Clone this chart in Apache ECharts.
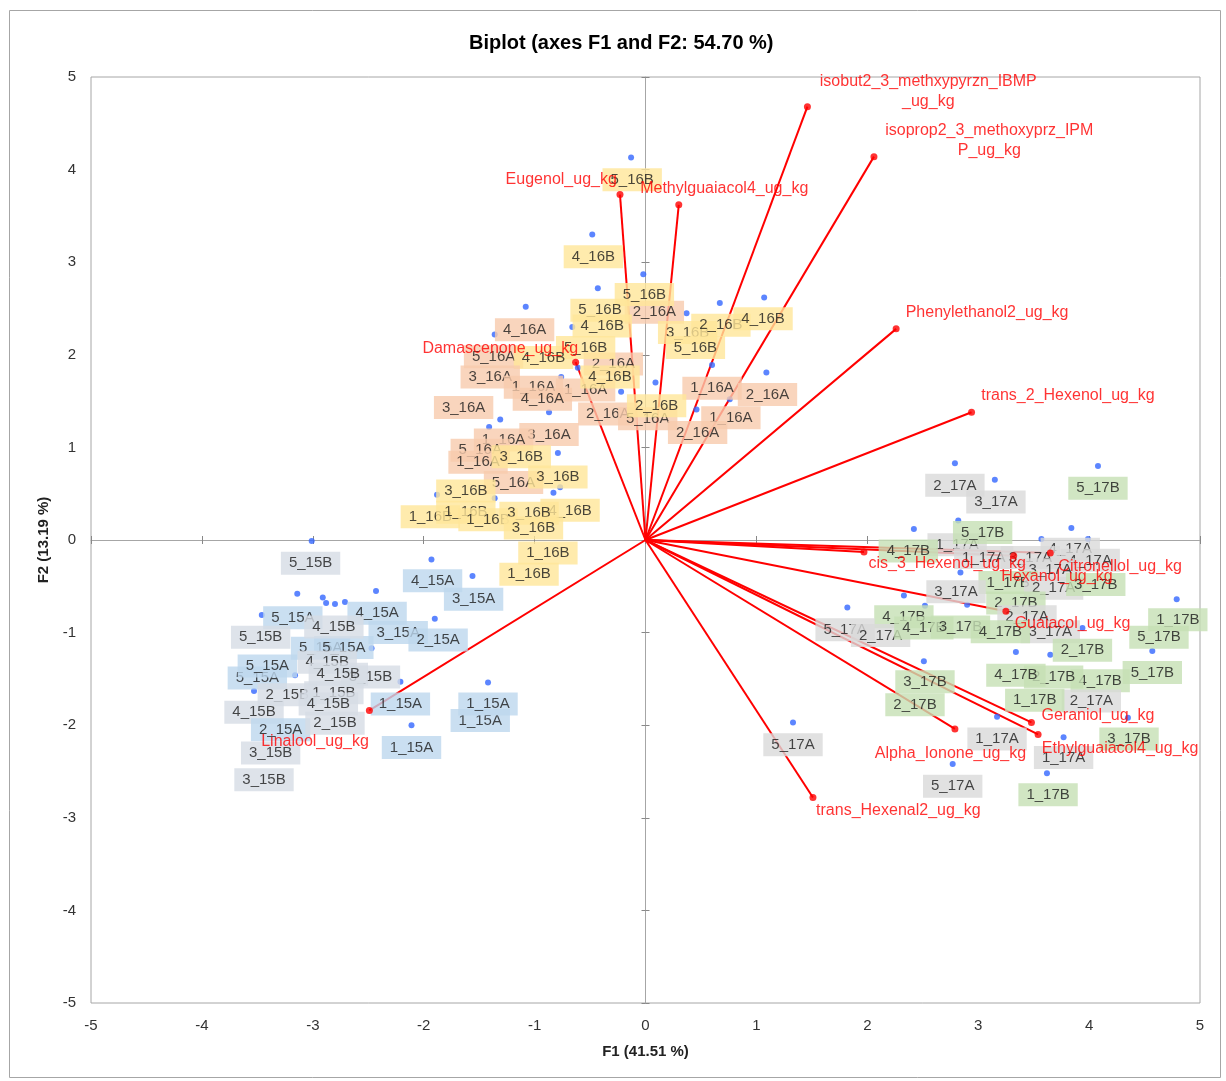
<!DOCTYPE html>
<html><head><meta charset="utf-8">
<script src="https://cdn.jsdelivr.net/npm/echarts@6/dist/echarts.min.js"></script>
<style>html,body{margin:0;padding:0;background:#fff}#c{width:1226px;height:1081px}</style>
</head><body><div id="c"></div>
<script>
// Observation scores (blue points)
const dotX = [-0.13,-0.48,-0.02,-0.43,-1.08,-0.66,-1.36,0.37,0.67,1.07,-0.61,-0.76,0.60,1.09,0.09,-0.22,-0.87,0.46,-1.31,-1.41,0.76,-0.79,-0.77,-0.83,-1.88,-1.36,
  -1.93,-1.56,-3.01,-3.14,-2.91,-2.88,-2.80,-2.71,-2.43,-3.46,-1.90,-2.47,-3.16,-3.53,-2.21,-1.42,-2.11,
  2.79,3.15,4.08,2.82,2.42,3.84,3.57,3.99,2.84,2.33,1.82,2.52,2.90,4.79,3.94,4.57,3.34,3.65,2.51,1.33,3.17,4.35,3.77,2.77,3.62];
const dotY = [4.13,3.30,2.87,2.72,2.52,2.30,2.22,2.45,2.56,2.62,1.86,1.76,1.89,1.81,1.70,1.60,1.38,1.41,1.30,1.22,1.52,0.94,0.57,0.51,0.49,0.45,
  -0.21,-0.39,-0.01,-0.58,-0.62,-0.68,-0.69,-0.67,-0.55,-0.81,-0.85,-1.17,-1.46,-1.63,-1.53,-1.54,-2.00,
  0.83,0.65,0.80,0.21,0.12,0.13,0.01,0.01,-0.35,-0.60,-0.73,-0.71,-0.70,-0.64,-0.95,-1.20,-1.21,-1.24,-1.31,-1.97,-1.91,-1.92,-2.13,-2.42,-2.52];

// Observation labels (as placed in the picture)
const obsNames = ["5_16B","4_16B","2_16A","5_16B","5_16B","4_16B","4_16A","3_16B","2_16B","4_16B","5_16B","5_16A","2_16A","5_16B","4_16B","3_16A","1_16A","1_16A","4_16B","4_16A","3_16A","1_16A","2_16A","2_16A","5_16A","2_16B","1_16A","2_16A","3_16A","1_16A","5_16A","1_16A","3_16B","5_16A","3_16B","3_16B","1_16B","1_16B","1_16B","4_16B","3_16B","3_16B","1_16B","1_16B",
  "5_15B","4_15A","3_15A","5_15A","4_15A","5_15A","5_15A","3_15A","2_15A","4_15B","5_15B","5_15A","4_15B","5_15A","3_15B","4_15B","2_15B","1_15B","4_15B","1_15A","1_15A","1_15A","4_15B","2_15A","2_15B","1_15A","3_15B","3_15B",
  "2_17A","3_17A","5_17B","1_17A","5_17B","4_17B","1_17A","4_17A","3_17A","4_17A","3_17A","1_17B","2_17A","3_17B","3_17A","2_17B","2_17A","4_17B","5_17A","2_17A","4_17B","3_17B","3_17A","4_17B","2_17B","1_17B","5_17B","5_17B","4_17B","2_17B","4_17B","3_17B","2_17B","2_17A","1_17B","5_17A","1_17A","3_17B","1_17A","5_17A","1_17B"];
const obsLabelX = [-0.12,-0.47,0.08,-0.01,-0.41,-0.39,-1.09,0.38,0.68,1.06,0.45,-1.37,-0.29,-0.54,-0.92,-1.40,-1.01,-0.54,-0.32,-0.93,-1.64,0.60,1.10,-0.34,0.02,0.10,0.77,0.47,-0.87,-1.28,-1.49,-1.51,-1.12,-1.19,-0.79,-1.62,-1.94,-1.62,-1.42,-0.68,-1.05,-1.01,-0.88,-1.05,
  -3.02,-1.92,-1.55,-3.18,-2.42,-2.93,-2.72,-2.23,-1.87,-2.81,-3.47,-3.50,-2.87,-3.41,-2.48,-2.77,-3.23,-2.81,-2.86,-2.21,-1.49,-1.42,-3.53,-3.29,-2.80,-2.11,-3.38,-3.44,
  2.79,3.16,4.08,2.81,3.04,2.37,3.05,3.83,3.47,4.01,3.65,3.27,3.68,4.06,2.80,3.34,3.44,2.33,1.80,2.12,2.51,2.84,3.65,3.20,3.94,4.80,4.63,4.57,4.10,3.68,3.34,2.52,2.43,4.02,3.51,1.33,3.17,4.36,3.77,2.77,3.63];
const obsLabelY = [3.89,3.06,2.46,2.65,2.48,2.31,2.27,2.24,2.32,2.39,2.08,1.98,1.90,2.08,1.97,1.76,1.65,1.62,1.76,1.52,1.43,1.64,1.57,1.36,1.31,1.45,1.32,1.16,1.14,1.08,0.97,0.84,0.90,0.62,0.68,0.53,0.25,0.30,0.22,0.32,0.29,0.13,-0.14,-0.37,
  -0.25,-0.44,-0.64,-0.84,-0.79,-1.17,-1.16,-1.00,-1.08,-0.94,-1.05,-1.49,-1.32,-1.36,-1.48,-1.45,-1.67,-1.65,-1.77,-1.77,-1.95,-1.77,-1.86,-2.05,-1.98,-2.24,-2.30,-2.59,
  0.59,0.41,0.56,-0.05,0.08,-0.12,-0.19,-0.10,-0.19,-0.22,-0.32,-0.46,-0.52,-0.48,-0.56,-0.68,-0.83,-0.83,-0.97,-1.03,-0.95,-0.94,-0.99,-0.99,-1.19,-0.86,-1.05,-1.43,-1.52,-1.48,-1.46,-1.53,-1.78,-1.74,-1.73,-2.21,-2.15,-2.15,-2.35,-2.66,-2.75];

// Variable loadings (red vectors)
const varNames = ["isobut2_3_methxypyrzn_IBMP\n_ug_kg","isoprop2_3_methoxyprz_IPM\nP_ug_kg","Eugenol_ug_kg","Methylguaiacol4_ug_kg","Phenylethanol2_ug_kg","trans_2_Hexenol_ug_kg","Damascenone_ug_kg","Linalool_ug_kg","cis_3_Hexenol_ug_kg","Hexanol_ug_kg","Citronellol_ug_kg","Guaiacol_ug_kg","Geraniol_ug_kg","Ethylguaiacol4_ug_kg","Alpha_Ionone_ug_kg","trans_Hexenal2_ug_kg"];
const varX = [1.46,2.06,-0.23,0.30,2.26,2.94,-0.63,-2.49,1.97,3.32,3.65,3.25,3.48,3.54,2.79,1.51];
const varY = [4.68,4.14,3.73,3.62,2.28,1.38,1.92,-1.84,-0.13,-0.17,-0.14,-0.77,-1.97,-2.10,-2.04,-2.78];
const varLabelX = [2.55,3.10,-0.76,0.71,3.08,3.81,-1.31,-2.98,2.72,3.71,4.28,3.85,4.08,4.28,2.75,2.28];
const varLabelY = [4.84,4.31,3.89,3.79,2.46,1.56,2.07,-2.18,-0.25,-0.40,-0.29,-0.90,-1.90,-2.25,-2.31,-2.92];

const ticks = [-5,-4,-3,-2,-1,0,1,2,3,4,5];

const FONT = 'Liberation Sans, Arial, sans-serif';
const boxColors = {'15A':'#bdd7ee','15B':'#d6dce5','16A':'#f8cbad','16B':'#ffe699','17A':'#d9d9d9','17B':'#c5e0b4'};

const chart = echarts.init(document.getElementById('c'), null, {renderer:'canvas'});

const series = [];
varNames.forEach((n,i)=>{
  series.push({type:'line', xAxisIndex:0, yAxisIndex:0, data:[[0,0],[varX[i],varY[i]]], symbol:'none',
    lineStyle:{color:'#ff0000', width:2}, silent:true, z:2, animation:false});
});
series.push({type:'scatter', xAxisIndex:0, yAxisIndex:0, data: dotX.map((x,i)=>[x,dotY[i]]), symbolSize:6,
  itemStyle:{color:'#3366ff'}, z:3, animation:false});
series.push({type:'scatter', xAxisIndex:0, yAxisIndex:0, z:4, animation:false, symbolSize:1,
  itemStyle:{color:'rgba(0,0,0,0)'},
  data: obsNames.map((n,i)=>({name:n, value:[obsLabelX[i],obsLabelY[i]],
    label:{backgroundColor: boxColors[n.slice(-3)]}})),
  label:{show:true, position:'inside', formatter:'{b}', color:'#1a1a1a', fontSize:15, fontFamily:FONT,
    padding:[4,8,3,8], lineHeight:16}
});
series.push({type:'scatter', xAxisIndex:0, yAxisIndex:0, data: varX.map((x,i)=>[x,varY[i]]), symbolSize:7,
  itemStyle:{color:'#ff0000'}, z:5, animation:false});
series.push({type:'scatter', xAxisIndex:0, yAxisIndex:0, z:6, animation:false, symbolSize:1,
  itemStyle:{color:'rgba(0,0,0,0)'},
  data: varNames.map((n,i)=>({name:n, value:[varLabelX[i],varLabelY[i]]})),
  label:{show:true, position:'inside', formatter:'{b}', color:'#ff0000', fontSize:16, fontFamily:FONT, lineHeight:20, align:'center'}
});

function axisBase(extra){
  return Object.assign({type:'value', min:-5, max:5, interval:1, splitLine:{show:false}}, extra);
}
const axColor = '#a6a6a6';
const option = {
  backgroundColor:'#ffffff',
  animation:false,
  title:{text:'Biplot (axes F1 and F2: 54.70 %)', left:464, top:28,
    textStyle:{fontSize:20, fontWeight:'bold', color:'#000', fontFamily:FONT}},
  grid:{left:91, right:26, top:77, bottom:78, show:true, borderColor:axColor, borderWidth:1, backgroundColor:'#fff'},
  xAxis:[
    axisBase({position:'bottom', axisLine:{show:false, onZero:false}, axisTick:{show:false},
      axisLabel:{margin:15, fontSize:15, color:'#333', fontFamily:FONT, formatter: v=> ticks.includes(v)? String(v):''},
      name:'F1 (41.51 %)', nameLocation:'middle', nameGap:41,
      nameTextStyle:{fontSize:15, fontWeight:'bold', color:'#222', fontFamily:FONT}}),
    axisBase({position:'bottom', axisLine:{show:true, onZero:true, onZeroAxisIndex:0, lineStyle:{color:axColor, width:1}},
      axisTick:{show:true, inside:false, length:4, lineStyle:{color:'#888'}}, axisLabel:{show:false}}),
    axisBase({position:'bottom', axisLine:{show:false, onZero:true, onZeroAxisIndex:0},
      axisTick:{show:true, inside:true, length:4, lineStyle:{color:'#888'}}, axisLabel:{show:false}})
  ],
  yAxis:[
    axisBase({position:'left', axisLine:{show:false, onZero:false}, axisTick:{show:false},
      axisLabel:{margin:15, fontSize:15, color:'#333', fontFamily:FONT},
      name:'F2 (13.19 %)', nameLocation:'middle', nameGap:38, nameRotate:90,
      nameTextStyle:{fontSize:15, fontWeight:'bold', color:'#222', fontFamily:FONT}}),
    axisBase({position:'left', axisLine:{show:true, onZero:true, onZeroAxisIndex:0, lineStyle:{color:axColor, width:1}},
      axisTick:{show:true, inside:false, length:4, lineStyle:{color:'#888'}}, axisLabel:{show:false}}),
    axisBase({position:'left', axisLine:{show:false, onZero:true, onZeroAxisIndex:0},
      axisTick:{show:true, inside:true, length:4, lineStyle:{color:'#888'}}, axisLabel:{show:false}})
  ],
  graphic:[{type:'rect', shape:{x:9.5, y:10.5, width:1211, height:1067}, style:{fill:'none', stroke:axColor, lineWidth:1}, silent:true, z:-10}],
  series: series
};
chart.setOption(option);
</script></body></html>
